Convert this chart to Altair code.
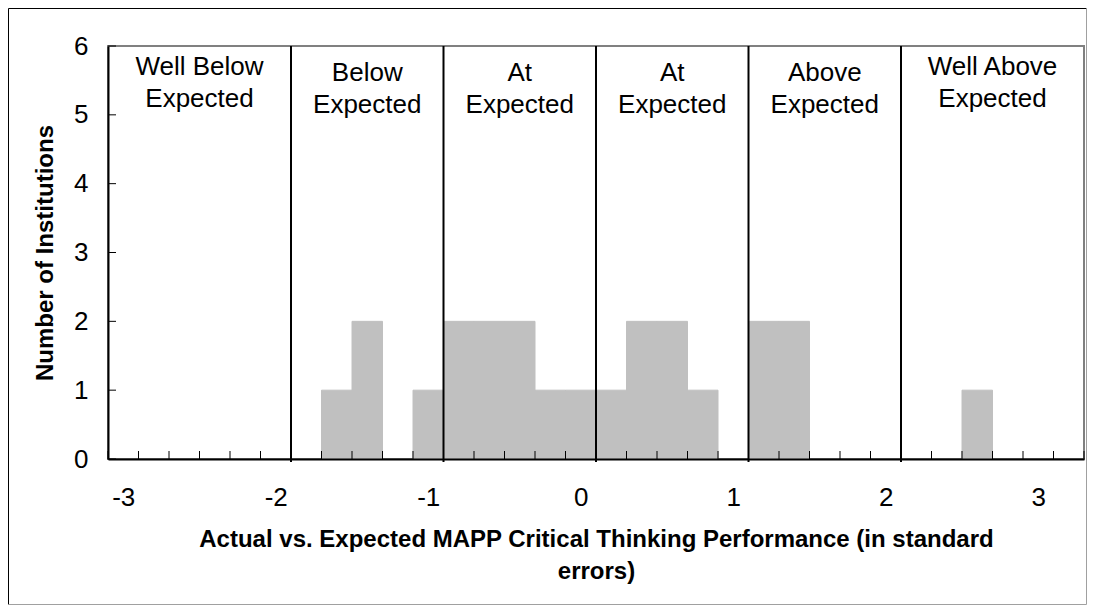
import altair as alt
import pandas as pd

# ---- data ----
bin_centers = [-1.6, -1.4, -1.0, -0.8, -0.6, -0.4, -0.2, 0.0, 0.2, 0.4, 0.6, 0.8, 1.2, 1.4, 2.6]
counts = [1, 2, 1, 2, 2, 2, 1, 1, 1, 2, 2, 1, 2, 2, 1]
bin_width = 0.2
tick_labels = [-3, -2, -1, 0, 1, 2, 3]
y_ticks = [0, 1, 2, 3, 4, 5, 6]
boundaries = [-1.9, -0.9, 0.1, 1.1, 2.1]
x_min, x_max = -3.1, 3.3
region_line1 = ["Well Below", "Below", "At", "At", "Above", "Well Above"]
region_line2 = "Expected"
x_title = ["Actual vs. Expected MAPP Critical Thinking Performance (in standard", "errors)"]
y_title = "Number of Institutions"

FONT = "Liberation Sans"
W, H = 976, 413
PAD = {"left": 100, "top": 38, "right": 3, "bottom": 146}

bars_df = pd.DataFrame({"center": bin_centers, "count": counts})
bars_df["lo"] = bars_df["center"] - bin_width / 2
bars_df["hi"] = bars_df["center"] + bin_width / 2

n_edges = int(round((x_max - x_min) / bin_width)) + 1
edges_df = pd.DataFrame({"edge": [round(x_min + bin_width * j, 2) for j in range(n_edges)]})
yt_df = pd.DataFrame({"v": y_ticks})
bnd_df = pd.DataFrame({"b": boundaries})
all_b = [x_min] + boundaries + [x_max]
reg_df = pd.DataFrame({
    "c": [(all_b[i] + all_b[i + 1]) / 2 for i in range(len(region_line1))],
    "label": [l + "\n" + region_line2 for l in region_line1],
    "well": [l.startswith("Well") for l in region_line1],
})

xs = alt.Scale(domain=[x_min, x_max], nice=False, zero=False)
ys = alt.Scale(domain=[0, 6], nice=False)

bars = alt.Chart(bars_df).mark_rect(color="#C0C0C0", stroke="#C0C0C0", strokeWidth=1).encode(
    x=alt.X("lo:Q", scale=xs, axis=alt.Axis(
        values=tick_labels, labelExpr="'' + datum.value", ticks=False, grid=False,
        domainColor="black", domainWidth=2, labelFont=FONT, labelFontSize=26, labelColor="black",
        labelPadding=25, title=x_title, titleFont=FONT, titleFontSize=24, titleFontWeight="bold",
        titleColor="black", titleY=68, titleBaseline="top", titleLineHeight=32, zindex=1)),
    x2="hi:Q",
    y=alt.Y("count:Q", scale=ys, axis=alt.Axis(
        values=y_ticks, labelExpr="'' + datum.value", ticks=False, grid=False,
        domainColor="black", domainWidth=2,
        labelFont=FONT, labelFontSize=26, labelColor="black", labelPadding=20,
        title=y_title, titleFont=FONT, titleFontSize=24, titleFontWeight="bold", titleColor="black",
        titleX=-63, titleBaseline="middle", zindex=1)),
    y2=alt.datum(0),
)

xticks = alt.Chart(edges_df).mark_rule(color="black", strokeWidth=1).encode(
    x=alt.X("edge:Q", scale=xs), y=alt.value(H - 8), y2=alt.value(H))
yticks = alt.Chart(yt_df).mark_rule(color="black", strokeWidth=1).encode(
    y=alt.Y("v:Q", scale=ys), x=alt.value(0), x2=alt.value(8))
vlines = alt.Chart(bnd_df).mark_rule(color="black", strokeWidth=2).encode(
    x=alt.X("b:Q", scale=xs), y=alt.value(0), y2=alt.value(H + 3))

txt_kw = dict(lineBreak="\n", lineHeight=32, fontSize=26, font=FONT, align="center",
              baseline="alphabetic", color="black")
labels_well = alt.Chart(reg_df).transform_filter("datum.well").mark_text(**txt_kw).encode(
    x=alt.X("c:Q", scale=xs), y=alt.value(29), text="label:N")
labels_other = alt.Chart(reg_df).transform_filter("!datum.well").mark_text(**txt_kw).encode(
    x=alt.X("c:Q", scale=xs), y=alt.value(35), text="label:N")

# outer frame of the whole figure
L = -PAD["left"] + 0.5
R = W + PAD["right"] - 0.5
T = -PAD["top"] + 0.5
B = H + PAD["bottom"] - 0.5
frame_src = pd.DataFrame({"k": [0]})
f_left = alt.Chart(frame_src).mark_rule(color="black", strokeWidth=1).encode(
    x=alt.value(L), y=alt.value(T), y2=alt.value(B))
f_top = alt.Chart(frame_src).mark_rule(color="black", strokeWidth=1).encode(
    x=alt.value(L), x2=alt.value(R), y=alt.value(T))
f_right = alt.Chart(frame_src).mark_rule(color="#A0A0A0", strokeWidth=1).encode(
    x=alt.value(R), y=alt.value(T), y2=alt.value(B))
f_bottom = alt.Chart(frame_src).mark_rule(color="#A0A0A0", strokeWidth=1).encode(
    x=alt.value(L), x2=alt.value(R), y=alt.value(B))

chart = alt.layer(
    bars, xticks, yticks, vlines, labels_well, labels_other, f_left, f_top, f_right, f_bottom
).properties(
    width=W, height=H, padding=PAD, autosize=alt.AutoSizeParams(type="none"),
    background="white",
).configure_view(stroke="#808080", strokeWidth=2)

chart.save("out.html", embed_options={"renderer": "svg", "actions": False})
